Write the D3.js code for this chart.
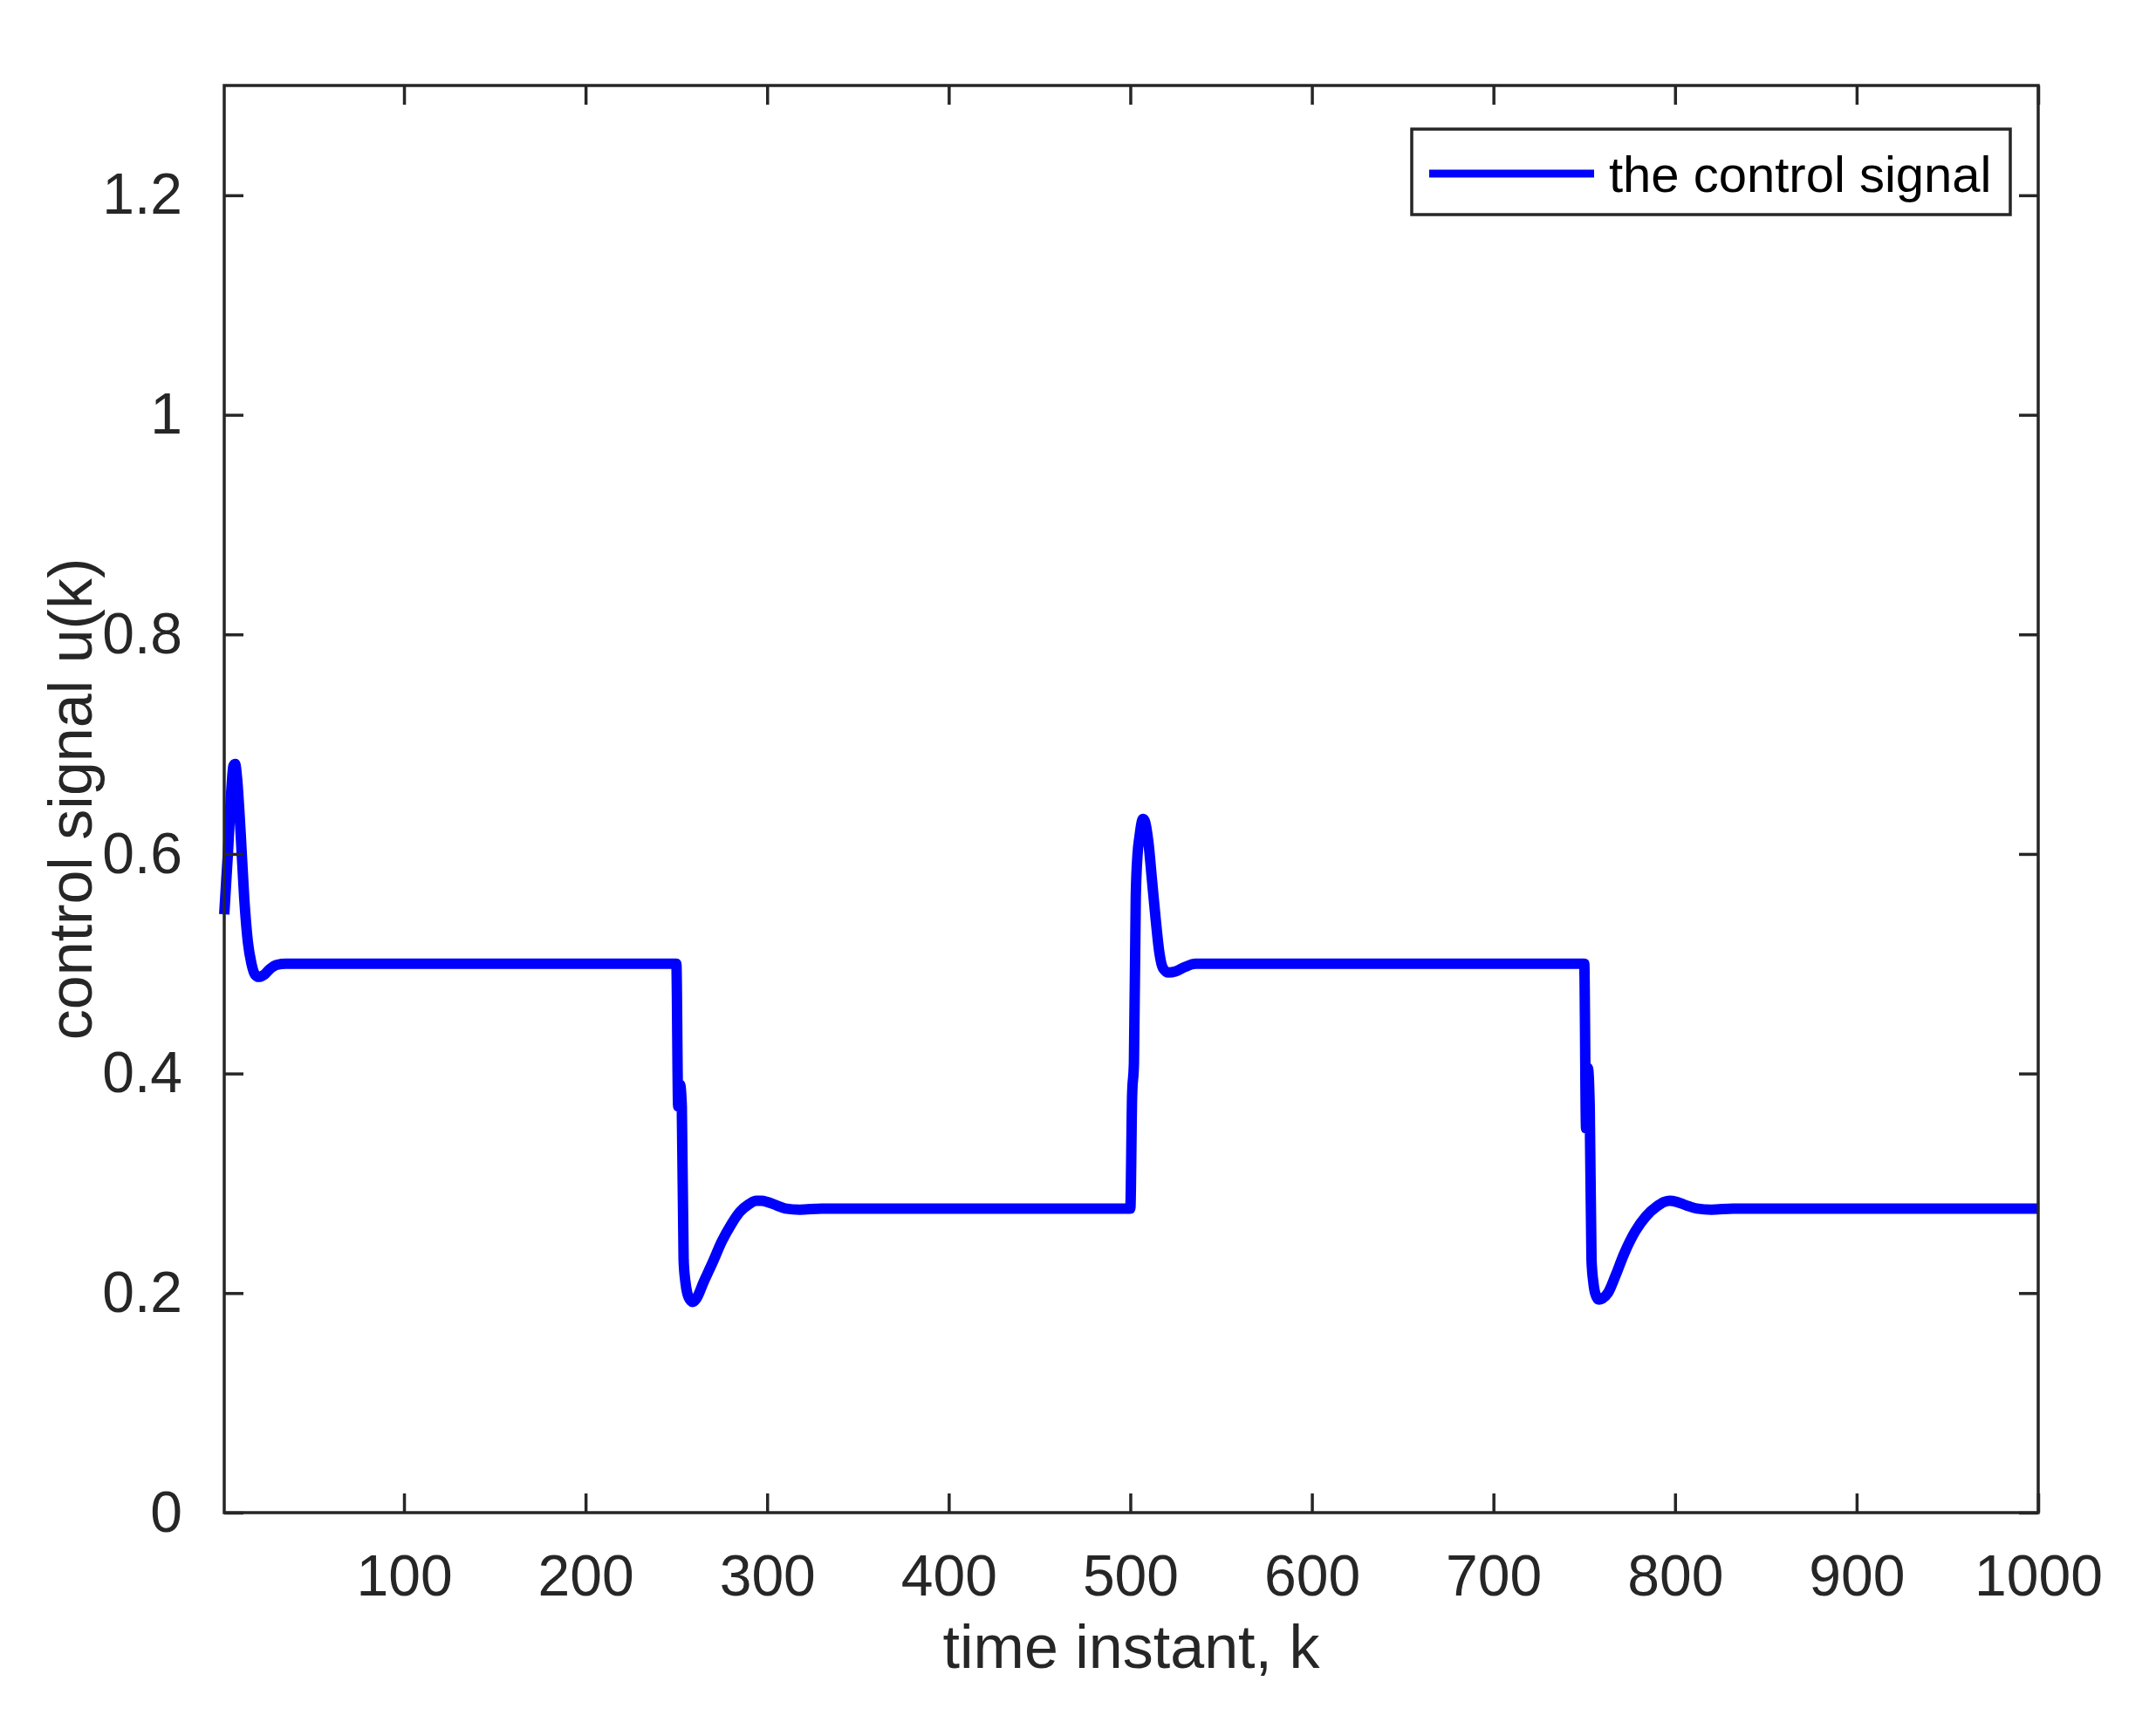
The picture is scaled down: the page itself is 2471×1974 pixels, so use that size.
<!DOCTYPE html>
<html>
<head>
<meta charset="utf-8">
<script src="https://cdn.jsdelivr.net/npm/d3@7"></script>
<style>
  body { margin: 0; background: #fff; }
  text { font-family: "Liberation Sans", Arial, sans-serif; fill: #262626; }
</style>
</head>
<body>
<div id="chart"></div>
<script>
const kValues = [1, 3, 5, 6, 7, 8, 10, 12, 14, 16, 18, 20, 23, 26, 30, 35, 250,
  251, 252, 253, 254, 255, 256, 258, 259, 261, 265, 270, 275, 280, 285, 290, 294, 297, 300, 305, 310, 318, 330, 500,
  501, 502, 503, 504, 505, 507, 508, 510, 512, 514, 516, 518, 521, 525, 530, 536, 545, 750,
  751, 752, 753, 754, 755, 756, 758, 760, 763, 767, 772, 778, 784, 790, 794, 797, 801, 806, 812, 820, 832, 1000];
const uValues = [0.545, 0.6, 0.66, 0.68, 0.682, 0.67, 0.62, 0.56, 0.52, 0.5, 0.49, 0.488, 0.49, 0.495, 0.499, 0.5, 0.5,
  0.37, 0.39, 0.37, 0.23, 0.21, 0.2, 0.193, 0.192, 0.195, 0.21, 0.228, 0.247, 0.262, 0.274, 0.281, 0.284, 0.284, 0.283, 0.28, 0.277, 0.276, 0.277, 0.277,
  0.38, 0.41, 0.56, 0.6, 0.615, 0.632, 0.63, 0.61, 0.575, 0.54, 0.51, 0.496, 0.492, 0.493, 0.497, 0.5, 0.5, 0.5,
  0.35, 0.405, 0.37, 0.23, 0.21, 0.2, 0.194, 0.195, 0.2, 0.215, 0.236, 0.256, 0.27, 0.279, 0.283, 0.284, 0.283, 0.28, 0.277, 0.276, 0.277, 0.277];
const xTicks = [100, 200, 300, 400, 500, 600, 700, 800, 900, 1000];
const yTicks = [0, 0.2, 0.4, 0.6, 0.8, 1, 1.2];

const W = 2471, H = 1974;
const margin = { top: 98, right: 135, bottom: 240, left: 257 };
const width = W - margin.left - margin.right;
const height = H - margin.top - margin.bottom;
const axisColor = "#262626";

const svg = d3.select("#chart").append("svg")
  .attr("width", W).attr("height", H);
const g = svg.append("g")
  .attr("transform", "translate(" + margin.left + "," + margin.top + ")");

const x = d3.scaleLinear().domain([1, 1000]).range([0, width]);
const y = d3.scaleLinear().domain([0, 1.3]).range([height, 0]);

const data = kValues.map((k, i) => ({ k: k, u: uValues[i] }));

// the signal
g.append("path")
  .datum(data)
  .attr("fill", "none")
  .attr("stroke", "#0000ff")
  .attr("stroke-width", 12)
  .attr("stroke-linejoin", "round")
  .attr("d", d3.line().x(d => x(d.k)).y(d => y(d.u)).curve(d3.curveMonotoneX));

// axes: inward ticks on all four sides
function styleAxis(sel) {
  sel.select(".domain").remove();
  sel.selectAll("line").attr("stroke", axisColor).attr("stroke-width", 3.5);
  sel.selectAll("text").attr("font-size", 66).style("fill", axisColor);
}
const tl = 22;
g.append("g").attr("transform", "translate(0," + height + ")")
  .call(d3.axisBottom(x).tickValues(xTicks).tickSize(-tl).tickPadding(48).tickFormat(d3.format("d")))
  .call(styleAxis);
g.append("g")
  .call(d3.axisTop(x).tickValues(xTicks).tickSize(-tl).tickFormat(""))
  .call(styleAxis);
g.append("g")
  .call(d3.axisLeft(y).tickValues(yTicks).tickSize(-tl).tickPadding(48).tickFormat(d3.format("~g")))
  .call(styleAxis);
g.append("g").attr("transform", "translate(" + width + ",0)")
  .call(d3.axisRight(y).tickValues(yTicks).tickSize(-tl).tickFormat(""))
  .call(styleAxis);

g.append("rect")
  .attr("width", width).attr("height", height)
  .attr("fill", "none").attr("stroke", axisColor).attr("stroke-width", 3.5);

// axis labels
svg.append("text")
  .attr("x", margin.left + width / 2).attr("y", 1912)
  .attr("text-anchor", "middle").attr("font-size", 70)
  .text("time instant, k");
svg.append("text")
  .attr("transform", "translate(105," + (margin.top + height / 2) + ") rotate(-90)")
  .attr("text-anchor", "middle").attr("font-size", 70)
  .text("control signal u(k)");

// legend
const lg = svg.append("g").attr("transform", "translate(1618,148)");
lg.append("rect").attr("width", 686).attr("height", 98)
  .attr("fill", "#fff").attr("stroke", axisColor).attr("stroke-width", 3.5);
lg.append("line").attr("x1", 20).attr("x2", 209).attr("y1", 51).attr("y2", 51)
  .attr("stroke", "#0000ff").attr("stroke-width", 9);
lg.append("text").attr("x", 226).attr("y", 72).attr("font-size", 58)
  .style("fill", "#000").text("the control signal");
</script>
</body>
</html>
